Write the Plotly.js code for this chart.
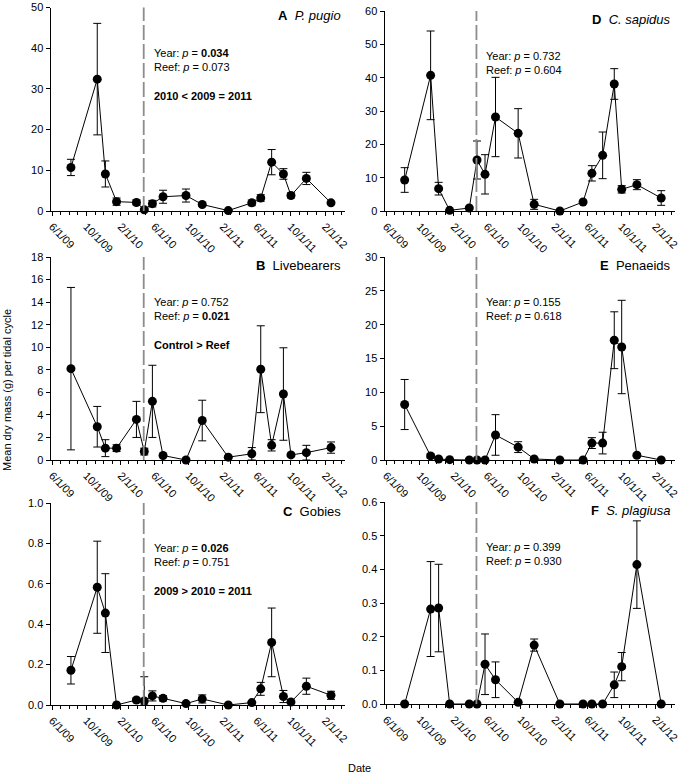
<!DOCTYPE html>
<html>
<head>
<meta charset="utf-8">
<script src="https://cdn.plot.ly/plotly-3.0.1.min.js"></script>
<style>html,body{margin:0;padding:0;background:#fff}#chart{width:686px;height:776px}</style>
</head>
<body>
<div id="chart"></div>
<script>
// ---- data ----
const dates = ['2009-08-07','2009-11-09','2009-12-08','2010-01-17','2010-03-29','2010-04-26','2010-05-25','2010-07-02','2010-09-22','2010-11-19','2011-02-20','2011-05-15','2011-06-16','2011-07-25','2011-09-05','2011-10-02','2011-11-26','2012-02-22'];
const spillDate = '2010-04-24';

const pugio   = [10.7, 32.4, 9.1, 2.3, 2.1, 0.3, 1.8, 3.5, 3.8, 1.6, 0.1, 2.0, 3.2, 12.0, 9.1, 3.8, 8.0, 2.0];
const pugioSE = [2.0, 13.7, 3.2, 0.9, 0.6, 0.3, 0.8, 1.6, 1.6, 0.4, 0.1, 0.7, 0.8, 3.1, 1.3, 0.6, 1.5, 0.4];

const livebearers   = [8.1, 2.95, 1.05, 1.05, 3.6, 0.75, 5.2, 0.4, 0, 3.5, 0.25, 0.55, 8.05, 1.3, 5.85, 0.45, 0.65, 1.1];
const livebearersSE = [7.2, 1.8, 0.75, 0.3, 1.6, 0.3, 3.2, 0.1, 0, 1.8, 0.05, 0.55, 3.85, 0.5, 4.1, 0.15, 0.65, 0.5];

const gobies   = [0.172, 0.583, 0.455, 0.0, 0.025, 0.02, 0.045, 0.033, 0.007, 0.03, 0.0, 0.012, 0.08, 0.31, 0.042, 0.015, 0.093, 0.048];
const gobiesSE = [0.068, 0.228, 0.195, 0, 0.01, 0.12, 0.025, 0.013, 0.003, 0.02, 0, 0.005, 0.032, 0.17, 0.03, 0.005, 0.04, 0.02];

const sapidus   = [9.3, 40.7, 6.7, 0.2, 0.9, 15.3, 11.0, 28.2, 23.3, 2.0, 0, 2.7, 11.3, 16.7, 38.1, 6.5, 7.9, 3.9];
const sapidusSE = [3.7, 13.3, 1.9, 0.2, 0.3, 5.7, 5.9, 11.9, 7.4, 1.5, 0, 0.5, 2.3, 7.0, 4.6, 1.1, 1.5, 2.2];

const penaeids   = [8.2, 0.6, 0.15, 0.05, 0, 0, 0, 3.7, 1.9, 0.15, 0, 0, 2.5, 2.5, 17.7, 16.7, 0.7, 0];
const penaeidsSE = [3.7, 0.3, 0.1, 0.05, 0, 0, 0, 3.0, 0.8, 0.1, 0, 0, 0.8, 1.6, 4.2, 6.9, 0.2, 0];

const plagiusa   = [0, 0.282, 0.285, 0, 0, 0, 0.118, 0.072, 0.005, 0.175, 0, 0, 0, 0, 0.057, 0.111, 0.414, 0];
const plagiusaSE = [0, 0.141, 0.13, 0, 0, 0, 0.09, 0.053, 0.002, 0.018, 0, 0, 0, 0, 0.038, 0.042, 0.13, 0];

const panelLabels = [
  '<b>A</b>&nbsp;&nbsp;<i>P. pugio</i>',
  '<b>B</b>&nbsp;&nbsp;Livebearers',
  '<b>C</b>&nbsp;&nbsp;Gobies',
  '<b>D</b>&nbsp;&nbsp;<i>C. sapidus</i>',
  '<b>E</b>&nbsp;&nbsp;Penaeids',
  '<b>F</b>&nbsp;&nbsp;<i>S. plagiusa</i>'
];
const statTexts = [
  'Year: <i>p</i> = <b>0.034</b><br>Reef: <i>p</i> = 0.073<br> <br><b>2010 &lt; 2009 = 2011</b>',
  'Year: <i>p</i> = 0.752<br>Reef: <i>p</i> = <b>0.021</b><br> <br><b>Control &gt; Reef</b>',
  'Year: <i>p</i> = <b>0.026</b><br>Reef: <i>p</i> = 0.751<br> <br><b>2009 &gt; 2010 = 2011</b>',
  'Year: <i>p</i> = 0.732<br>Reef: <i>p</i> = 0.604',
  'Year: <i>p</i> = 0.155<br>Reef: <i>p</i> = 0.618',
  'Year: <i>p</i> = 0.399<br>Reef: <i>p</i> = 0.930'
];
const yMax = [50, 18, 1.0, 60, 30, 0.6];
const yStep = [10, 2, 0.2, 10, 5, 0.1];
const yFmt = ['', '', '.1f', '', '', '.1f'];
const yTitle = 'Mean dry mass (g) per tidal cycle';
const xTitle = 'Date';

// ---- layout geometry (px) ----
const W = 686, H = 776;
const series = [[pugio, pugioSE],[livebearers, livebearersSE],[gobies, gobiesSE],[sapidus, sapidusSE],[penaeids, penaeidsSE],[plagiusa, plagiusaSE]];
const boxes = [
  {l:50.5, r:345, t:7.5, b:211},
  {l:50.5, r:345, t:257, b:460},
  {l:50.5, r:345, t:503, b:705},
  {l:384.5, r:675, t:11, b:211},
  {l:384.5, r:675, t:257, b:460},
  {l:384.5, r:675, t:502, b:704}
];
const FONT = 'Arial, "Liberation Sans", sans-serif';

const traces = [], layout = {
  width: W, height: H, margin:{l:0,r:0,t:0,b:0},
  paper_bgcolor:'#fff', plot_bgcolor:'rgba(0,0,0,0)',
  showlegend:false, font:{family:FONT, size:11, color:'#000'},
  annotations:[], shapes:[]
};

series.forEach((s, i) => {
  const n = i + 1;
  const xa = 'x' + (n === 1 ? '' : n), ya = 'y' + (n === 1 ? '' : n);
  const [y, se] = s;
  traces.push({
    type:'scatter', mode:'lines+markers', x: dates, y: y, xaxis: xa, yaxis: ya,
    line:{color:'#000', width:1}, marker:{color:'#000', size:9},
    cliponaxis:false,
    error_y:{type:'data', symmetric:false, array: se, arrayminus: se.map((e,k)=>Math.min(e, y[k])), color:'#000', thickness:1, width:4}
  });
  const b = boxes[i];
  layout['xaxis' + (n === 1 ? '' : n)] = {
    domain:[b.l/W, b.r/W], anchor: ya, type:'date',
    range:['2009-05-26','2012-04-12'],
    tick0:'2009-06-01', dtick:'M4', tickformat:'%-m/%-d/%y', tickangle:45,
    ticks:'outside', ticklen:4, tickcolor:'#000', tickwidth:1,
    showline:true, linecolor:'#000', linewidth:1, showgrid:false, zeroline:false,
    tickfont:{size:11, family:FONT}, automargin:false,
    minor:{tick0:'2009-06-01', dtick:'M1', ticks:'outside', ticklen:3, tickcolor:'#000', showgrid:false}
  };
  layout['yaxis' + (n === 1 ? '' : n)] = {
    domain:[(H-b.b)/H, (H-b.t)/H], anchor: xa,
    range:[0, yMax[i]], dtick: yStep[i], tick0:0, tickformat: yFmt[i],
    ticks:'outside', ticklen:4, tickcolor:'#000', tickwidth:1,
    showline:true, linecolor:'#000', linewidth:1, showgrid:false, zeroline:false,
    tickfont:{size:11, family:FONT}, automargin:false
  };
  layout.shapes.push({type:'line', xref: xa, yref: ya + ' domain', x0: spillDate, x1: spillDate, y0:0, y1:1,
    line:{color:'#8c8c8c', width:1.8, dash:'15px,4px'}});
  const ph = b.b - b.t, pw = b.r - b.l;
  layout.annotations.push({xref: xa + ' domain', yref: ya + ' domain', x: 1 - 2.5/pw, y: 1 - 8.5/ph,
    xanchor:'right', yanchor:'middle', showarrow:false, text: panelLabels[i], font:{size:13, family:FONT}});
  layout.annotations.push({xref: xa + ' domain', yref: ya + ' domain', x: 0.343, y: 1 - 37/ph,
    xanchor:'left', yanchor:'top', align:'left', showarrow:false, text: statTexts[i], font:{size:11, family:FONT}});
});

layout.annotations.push({xref:'paper', yref:'paper', x: 7/W, y: (H-390)/H, textangle:-90,
  xanchor:'center', yanchor:'middle', showarrow:false, text: yTitle, font:{size:11, family:FONT}});
layout.annotations.push({xref:'paper', yref:'paper', x: 360/W, y: (H-768)/H,
  xanchor:'center', yanchor:'middle', showarrow:false, text: xTitle, font:{size:11, family:FONT}});

Plotly.newPlot('chart', traces, layout, {staticPlot:true, displayModeBar:false});
</script>
</body>
</html>
